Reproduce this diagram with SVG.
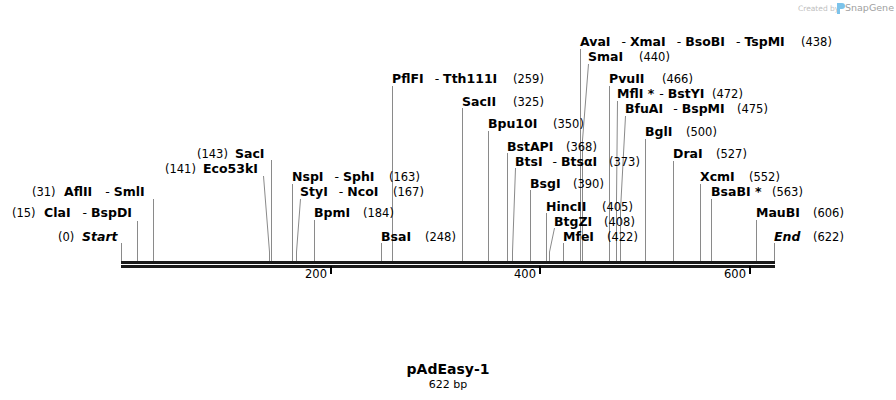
<svg xmlns="http://www.w3.org/2000/svg" width="896" height="400" viewBox="0 0 896 400">
<style>
text{font-family:"DejaVu Sans",sans-serif;fill:#000;}
.b{font-weight:bold;font-size:12.5px;}
.bi{font-weight:bold;font-style:italic;font-size:12.5px;}
.s{font-size:12.5px;}
.r{font-size:11.5px;}
.ln{stroke:#8a8a8a;stroke-width:1;fill:none;}
.tk{stroke:#000;stroke-width:2;}
</style>
<rect width="896" height="400" fill="#fff"/>
<g id="watermark">
<text x="798" y="11" style="font-size:7.5px;fill:#c0c0c0;">Created by</text>
<path d="M837 3 h5 a3 3 0 0 1 0 6 h-2 v5 h-3 z" fill="#7cc3ea"/>
<text x="845" y="11" style="font-size:9.5px;fill:#a0a0a0;">SnapGene</text>
</g>
<g id="backbone">
<rect x="121" y="261" width="654" height="3" fill="#1a1a1a"/>
<rect x="121" y="265" width="654" height="3" fill="#1a1a1a"/>
<line class="tk" x1="331" y1="266" x2="331" y2="274"/>
<line class="tk" x1="540" y1="266" x2="540" y2="274"/>
<line class="tk" x1="750" y1="266" x2="750" y2="274"/>
<text class="r" x="327" y="278" text-anchor="end">200</text>
<text class="r" x="536" y="278" text-anchor="end">400</text>
<text class="r" x="746" y="278" text-anchor="end">600</text>
</g>
<g id="connectors">
<polyline class="ln" points="121.5,243 121.5,261"/>
<polyline class="ln" points="137.5,221 137.5,261"/>
<polyline class="ln" points="153.5,199 153.5,261"/>
<polyline class="ln" points="263.5,176 269.5,252 269.5,261"/>
<polyline class="ln" points="271.5,160 271.5,261"/>
<polyline class="ln" points="292.5,184 292.5,261"/>
<polyline class="ln" points="300.5,199 296.5,252 296.5,261"/>
<polyline class="ln" points="314.5,220 314.5,261"/>
<polyline class="ln" points="381.5,243 381.5,261"/>
<polyline class="ln" points="392.5,86 392.5,261"/>
<polyline class="ln" points="462.5,108 462.5,261"/>
<polyline class="ln" points="488.5,131 488.5,261"/>
<polyline class="ln" points="507.5,153 507.5,261"/>
<polyline class="ln" points="515.5,168 512.5,252 512.5,261"/>
<polyline class="ln" points="530.5,190 530.5,261"/>
<polyline class="ln" points="546.5,213 546.5,261"/>
<polyline class="ln" points="554.5,228 549.5,252 549.5,261"/>
<polyline class="ln" points="563.5,243 563.5,261"/>
<polyline class="ln" points="580.5,49 580.5,261"/>
<polyline class="ln" points="588.5,64 582.5,140 582.5,261"/>
<polyline class="ln" points="609.5,86 609.5,261"/>
<polyline class="ln" points="617.5,101 616.5,200 616.5,261"/>
<polyline class="ln" points="625.5,116 620.5,210 620.5,261"/>
<polyline class="ln" points="645.5,139 645.5,261"/>
<polyline class="ln" points="673.5,161 673.5,261"/>
<polyline class="ln" points="700.5,184 700.5,261"/>
<polyline class="ln" points="711.5,199 711.5,261"/>
<polyline class="ln" points="756.5,220 756.5,261"/>
<polyline class="ln" points="774.5,243 774.5,261"/>
</g>
<g id="site-start"><text x="58" y="241" xml:space="preserve"><tspan class="r">(0)</tspan><tspan class="bi" x="82">Start</tspan></text></g>
<g id="site-ClaI"><text x="12" y="217" xml:space="preserve"><tspan class="r">(15)</tspan><tspan class="b" x="44">ClaI</tspan><tspan class="s" dx="12">- </tspan><tspan class="b">BspDI</tspan></text></g>
<g id="site-AflII"><text x="32" y="196" xml:space="preserve"><tspan class="r">(31)</tspan><tspan class="b" x="64">AflII</tspan><tspan class="s" dx="13">- </tspan><tspan class="b">SmlI</tspan></text></g>
<g id="site-Eco53kI"><text x="165" y="173" xml:space="preserve"><tspan class="r">(141)</tspan><tspan class="b" x="203">Eco53kI</tspan></text></g>
<g id="site-SacI"><text x="197" y="158" xml:space="preserve"><tspan class="r">(143)</tspan><tspan class="b" x="235">SacI</tspan></text></g>
<g id="site-NspI"><text x="292" y="181" xml:space="preserve"><tspan class="b">NspI</tspan><tspan class="s" dx="11">- </tspan><tspan class="b">SphI</tspan><tspan class="r" x="389">(163)</tspan></text></g>
<g id="site-StyI"><text x="300" y="196" xml:space="preserve"><tspan class="b">StyI</tspan><tspan class="s" dx="11">- </tspan><tspan class="b">NcoI</tspan><tspan class="r" x="393">(167)</tspan></text></g>
<g id="site-BpmI"><text x="314" y="217" xml:space="preserve"><tspan class="b">BpmI</tspan><tspan class="r" x="363">(184)</tspan></text></g>
<g id="site-BsaI"><text x="381" y="241" xml:space="preserve"><tspan class="b">BsaI</tspan><tspan class="r" x="425">(248)</tspan></text></g>
<g id="site-PflFI"><text x="392" y="83" xml:space="preserve"><tspan class="b">PflFI</tspan><tspan class="s" dx="11">- </tspan><tspan class="b">Tth111I</tspan><tspan class="r" x="513">(259)</tspan></text></g>
<g id="site-SacII"><text x="462" y="106" xml:space="preserve"><tspan class="b">SacII</tspan><tspan class="r" x="513">(325)</tspan></text></g>
<g id="site-Bpu10I"><text x="488" y="128" xml:space="preserve"><tspan class="b">Bpu10I</tspan><tspan class="r" x="553">(350)</tspan></text></g>
<g id="site-BstAPI"><text x="507" y="151" xml:space="preserve"><tspan class="b">BstAPI</tspan><tspan class="r" x="566">(368)</tspan></text></g>
<g id="site-BtsI"><text x="515" y="166" xml:space="preserve"><tspan class="b">BtsI</tspan><tspan class="s" dx="10">- </tspan><tspan class="b">BtsαI</tspan><tspan class="r" x="609">(373)</tspan></text></g>
<g id="site-BsgI"><text x="530" y="188" xml:space="preserve"><tspan class="b">BsgI</tspan><tspan class="r" x="573">(390)</tspan></text></g>
<g id="site-HincII"><text x="546" y="211" xml:space="preserve"><tspan class="b">HincII</tspan><tspan class="r" x="602">(405)</tspan></text></g>
<g id="site-BtgZI"><text x="554" y="226" xml:space="preserve"><tspan class="b">BtgZI</tspan><tspan class="r" x="604">(408)</tspan></text></g>
<g id="site-MfeI"><text x="563" y="241" xml:space="preserve"><tspan class="b">MfeI</tspan><tspan class="r" x="607">(422)</tspan></text></g>
<g id="site-AvaI"><text x="580" y="46" xml:space="preserve"><tspan class="b">AvaI</tspan><tspan class="s" dx="11">- </tspan><tspan class="b">XmaI</tspan><tspan class="s" dx="11">- </tspan><tspan class="b">BsoBI</tspan><tspan class="s" dx="11">- </tspan><tspan class="b">TspMI</tspan><tspan class="r" x="801">(438)</tspan></text></g>
<g id="site-SmaI"><text x="588" y="61" xml:space="preserve"><tspan class="b">SmaI</tspan><tspan class="r" x="639">(440)</tspan></text></g>
<g id="site-PvuII"><text x="609" y="83" xml:space="preserve"><tspan class="b">PvuII</tspan><tspan class="r" x="662">(466)</tspan></text></g>
<g id="site-MflI"><text x="617" y="98" xml:space="preserve"><tspan class="b">MflI *</tspan><tspan class="s" dx="5">- </tspan><tspan class="b">BstYI</tspan><tspan class="r" x="712">(472)</tspan></text></g>
<g id="site-BfuAI"><text x="625" y="113" xml:space="preserve"><tspan class="b">BfuAI</tspan><tspan class="s" dx="10">- </tspan><tspan class="b">BspMI</tspan><tspan class="r" x="737">(475)</tspan></text></g>
<g id="site-BglI"><text x="645" y="136" xml:space="preserve"><tspan class="b">BglI</tspan><tspan class="r" x="686">(500)</tspan></text></g>
<g id="site-DraI"><text x="673" y="158" xml:space="preserve"><tspan class="b">DraI</tspan><tspan class="r" x="716">(527)</tspan></text></g>
<g id="site-XcmI"><text x="700" y="181" xml:space="preserve"><tspan class="b">XcmI</tspan><tspan class="r" x="749">(552)</tspan></text></g>
<g id="site-BsaBI"><text x="711" y="196" xml:space="preserve"><tspan class="b">BsaBI *</tspan><tspan class="r" x="772">(563)</tspan></text></g>
<g id="site-MauBI"><text x="756" y="217" xml:space="preserve"><tspan class="b">MauBI</tspan><tspan class="r" x="813">(606)</tspan></text></g>
<g id="site-end"><text x="774" y="241" xml:space="preserve"><tspan class="bi">End</tspan><tspan class="r" x="813">(622)</tspan></text></g>
<g id="title">
<text x="448" y="374" text-anchor="middle" style="font-weight:bold;font-size:14px;">pAdEasy-1</text>
<text x="448" y="388" text-anchor="middle" style="font-size:11px;">622 bp</text>
</g>
</svg>
